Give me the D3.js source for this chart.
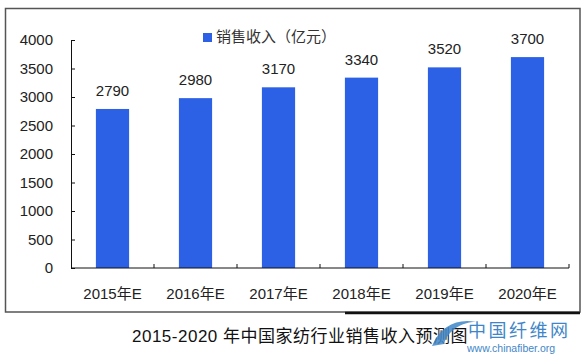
<!DOCTYPE html>
<html><head><meta charset="utf-8">
<script src="https://cdn.jsdelivr.net/npm/d3@7"></script>
<style>
html,body{margin:0;padding:0;background:#fff;}
svg{display:block;}
text{font-family:Arial,"Liberation Sans","Noto Sans CJK SC",sans-serif;}
</style></head>
<body>
<svg id="c" width="585" height="357"></svg>
<script>
const categories = ["2015年E","2016年E","2017年E","2018年E","2019年E","2020年E"];
const values = [2790, 2980, 3170, 3340, 3520, 3700];
const yTicks = [0,500,1000,1500,2000,2500,3000,3500,4000];
const seriesName = "销售收入（亿元）";
const title = "2015-2020 年中国家纺行业销售收入预测图";

const svg = d3.select("#c");
const W = 585, H = 357;
svg.append("rect").attr("width",W).attr("height",H).attr("fill","#fff");

// frame
svg.append("rect").attr("x",5.5).attr("y",8.5).attr("width",574.5).attr("height",303.5)
  .attr("fill","none").attr("stroke","#555").attr("stroke-width",1.5);
svg.append("line").attr("x1",345).attr("x2",580).attr("y1",313).attr("y2",313)
  .attr("stroke","#111").attr("stroke-width",2.5);

const x = d3.scaleBand().domain(categories).range([71,569]).padding(0);
const y = d3.scaleLinear().domain([0,4000]).range([268,40]);

// y axis
const ya = svg.append("g").attr("transform","translate(71,0)")
  .call(d3.axisLeft(y).tickValues(yTicks).tickFormat(d3.format("d"))
    .tickSizeInner(-4).tickSizeOuter(0).tickPadding(18));
ya.select(".domain").attr("stroke","#111");
ya.selectAll(".tick line").attr("stroke","#111");
ya.selectAll("text").attr("font-size",15).attr("fill","#222");

// bars
const bw = x.bandwidth()*0.4;
svg.selectAll("rect.bar").data(values).join("rect").attr("class","bar")
  .attr("x",(d,i)=>x(categories[i])+x.bandwidth()/2-bw/2)
  .attr("y",d=>y(d)).attr("width",bw).attr("height",d=>y(0)-y(d))
  .attr("fill","#2c61e6");

// value labels
svg.selectAll("text.val").data(values).join("text").attr("class","val")
  .attr("x",(d,i)=>x(categories[i])+x.bandwidth()/2)
  .attr("y",d=>y(d)-17).attr("dominant-baseline","middle")
  .attr("text-anchor","middle").attr("font-size",15).attr("fill","#222")
  .text(d=>d);

// x axis
const xa = svg.append("g").attr("transform","translate(0,268)");
xa.append("line").attr("x1",71).attr("x2",569).attr("stroke","#111");
const bounds = categories.map(c=>x(c)+x.bandwidth());
xa.selectAll("line.tk").data(bounds).join("line").attr("class","tk")
  .attr("x1",d=>d).attr("x2",d=>d).attr("y1",0).attr("y2",-4).attr("stroke","#111");
xa.selectAll("text").data(categories).join("text")
  .attr("x",d=>x(d)+x.bandwidth()/2).attr("y",27).attr("dominant-baseline","middle")
  .attr("text-anchor","middle").attr("font-size",15).attr("fill","#222").text(d=>d);

// legend
svg.append("rect").attr("x",203).attr("y",33).attr("width",9).attr("height",9).attr("fill","#2c61e6");
svg.append("text").attr("x",216).attr("y",38).attr("dominant-baseline","middle")
  .attr("font-size",15).attr("fill","#333").text(seriesName);

// title
svg.append("text").attr("x",132).attr("y",338).attr("dominant-baseline","middle")
  .attr("font-size",17).attr("letter-spacing",0.5).attr("fill","#111").text(title);

// watermark logo
svg.append("path").attr("d","M432,346 C440,326 458,318 476,322 C462,322 448,330 444,344 Z")
  .attr("fill","#3f86c8").attr("opacity",0.85);
svg.append("text").attr("x",468).attr("y",332).attr("dominant-baseline","middle")
  .attr("font-size",18).attr("fill","#3f86c8").attr("letter-spacing",2.5).text("中国纤维网");
svg.append("text").attr("x",467).attr("y",349).attr("dominant-baseline","middle")
  .attr("font-size",10.5).attr("fill","#3f86c8").text("www.chinafiber.org");
</script>
</body></html>
